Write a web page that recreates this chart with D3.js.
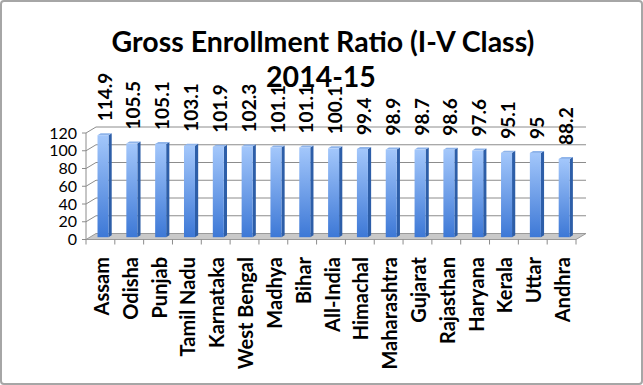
<!DOCTYPE html>
<meta charset="utf-8">
<style>
body { margin: 0; background: #fff; }
svg { display: block; font-family: Lato, "Open Sans", sans-serif; }
.title { font-size: 28.5px; font-weight: bold; text-anchor: middle; }
.ytick { font-size: 16px; text-anchor: end; }
.cat { font-size: 20px; font-weight: bold; text-anchor: end; }
.val { font-size: 19px; font-weight: bold; text-anchor: start; }
</style>
<svg width="643" height="385"></svg>
<script src="https://cdn.jsdelivr.net/npm/d3@7"></script>
<script>

var states = ["Assam", "Odisha", "Punjab", "Tamil Nadu", "Karnataka", "West Bengal", "Madhya",
  "Bihar", "All-India", "Himachal", "Maharashtra", "Gujarat", "Rajasthan", "Haryana",
  "Kerala", "Uttar", "Andhra"];
var ger = [114.9, 105.5, 105.1, 103.1, 101.9, 102.3, 101.1, 101.1, 100.1, 99.4, 98.9, 98.7,
  98.6, 97.6, 95.1, 95, 88.2];
var yTicks = [0, 20, 40, 60, 80, 100, 120];
var titleLines = ["Gross Enrollment Ratio (I-V Class)", "2014-15"];

var svg = d3.select("svg"),
    W = +svg.attr("width"),
    H = +svg.attr("height");

// depth of the 3d box
var dx = 10, dy = -6;

var x = d3.scaleBand().domain(states).range([86, 576]).padding(0);
var y = d3.scaleLinear().domain([0, 120]).range([239.5, 133]);

var defs = svg.append("defs");
var grad = defs.append("linearGradient").attr("id", "barGrad")
    .attr("x1", 0).attr("y1", 0).attr("x2", 0).attr("y2", 1);
grad.append("stop").attr("offset", "0%").attr("stop-color", "#a3c7fb");
grad.append("stop").attr("offset", "100%").attr("stop-color", "#3d78d6");

svg.append("rect")
    .attr("x", 1).attr("y", 1).attr("width", W - 2).attr("height", H - 2)
    .attr("rx", 3)
    .attr("fill", "#fff").attr("stroke", "#a6a6a6").attr("stroke-width", 2);

// floor
var x0 = x.range()[0], x1 = x.range()[1];
svg.append("path")
    .attr("d", "M" + x0 + "," + y(0) + "L" + x1 + "," + y(0) + "L" + (x1 + dx) + "," + (y(0) + dy) +
      "L" + (x0 + dx) + "," + (y(0) + dy) + "Z")
    .attr("fill", "#c9c9c9").attr("stroke", "#9a9a9a").attr("stroke-width", 1);

// gridlines on side wall + back wall
svg.append("g").selectAll("path")
  .data(yTicks.slice(1))
  .join("path")
    .attr("d", function(d) {
      return "M" + x0 + "," + y(d) + "L" + (x0 + dx) + "," + (y(d) + dy) + "L" + (x1 + dx) + "," + (y(d) + dy);
    })
    .attr("fill", "none").attr("stroke", "#8c8c8c").attr("stroke-width", 1);

// y axis line + ticks
svg.append("line")
    .attr("x1", x0).attr("x2", x0).attr("y1", y(120)).attr("y2", y(0))
    .attr("stroke", "#8c8c8c");
svg.append("g").selectAll("line")
  .data(yTicks)
  .join("line")
    .attr("x1", x0 - 4).attr("x2", x0).attr("y1", function(d) { return y(d); }).attr("y2", function(d) { return y(d); })
    .attr("stroke", "#8c8c8c");
svg.append("g").selectAll("text")
  .data(yTicks)
  .join("text")
    .attr("class", "ytick")
    .attr("x", 77).attr("y", function(d) { return y(d); })
    .attr("dy", "0.35em")
    .text(function(d) { return d; });

// category ticks
svg.append("g").selectAll("line")
  .data(states.concat(["_end"]))
  .join("line")
    .attr("x1", function(d, i) { return x0 + i * x.step(); })
    .attr("x2", function(d, i) { return x0 + i * x.step(); })
    .attr("y1", y(0)).attr("y2", y(0) + 5)
    .attr("stroke", "#8c8c8c");

// bars
var bw = 11, bdx = 3.2, bdy = -2, fdx = 2.6, fdy = -2.3;
var bar = svg.append("g").selectAll("g")
  .data(states)
  .join("g");

function bx(d) { return x(d) + x.bandwidth() / 2 - bw / 2 + fdx; }
function by(d, i) { return y(ger[i]) + fdy; }
var base = y(0) + fdy;

bar.append("path")
    .attr("d", function(d, i) {
      var l = bx(d) + bw, t = by(d, i);
      return "M" + l + "," + t + "L" + (l + bdx) + "," + (t + bdy) + "L" + (l + bdx) + "," + (base + bdy) +
        "L" + l + "," + base + "Z";
    })
    .attr("fill", "#2d5ea8");
bar.append("path")
    .attr("d", function(d, i) {
      var l = bx(d), t = by(d, i);
      return "M" + l + "," + t + "L" + (l + bdx) + "," + (t + bdy) + "L" + (l + bw + bdx) + "," + (t + bdy) +
        "L" + (l + bw) + "," + t + "Z";
    })
    .attr("fill", "#8fb4ea");
bar.append("rect")
    .attr("x", bx)
    .attr("y", by)
    .attr("width", bw)
    .attr("height", function(d, i) { return base - by(d, i); })
    .attr("fill", "url(#barGrad)");

// value labels
svg.append("g").selectAll("text")
  .data(states)
  .join("text")
    .attr("class", "val")
    .attr("transform", function(d, i) {
      return "translate(" + (x(d) + x.bandwidth() / 2 + 4.5) + "," + (by(d, i) - 14) + ") rotate(-90)";
    })
    .attr("dy", "0.35em")
    .text(function(d, i) { return ger[i]; });

// category labels
svg.append("g").selectAll("text")
  .data(states)
  .join("text")
    .attr("class", "cat")
    .attr("transform", function(d) {
      return "translate(" + (x(d) + x.bandwidth() / 2 + 1.5) + "," + 257 + ") rotate(-90)";
    })
    .attr("dy", "0.35em")
    .text(function(d) { return d; });

// title
svg.append("g").selectAll("text")
  .data(titleLines)
  .join("text")
    .attr("class", "title")
    .attr("x", function(d, i) { return i ? 321 : 323; })
    .attr("y", function(d, i) { return 52 + i * 35; })
    .text(function(d) { return d; });

</script>
